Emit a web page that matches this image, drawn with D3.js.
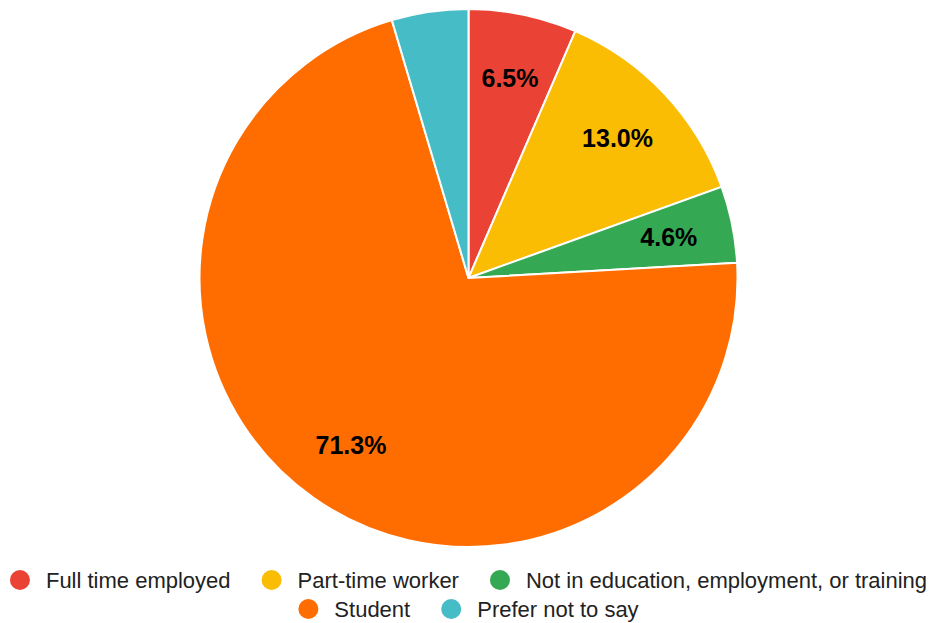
<!DOCTYPE html>
<html>
<head>
    <meta charset="utf-8">
    <title>Employment status pie</title>
    <script src="https://cdn.jsdelivr.net/npm/d3@7"></script>
    <style>
        body { margin: 0; background: #fff; }
        text { font-family: "Liberation Sans", Arial, sans-serif; }
    </style>
</head>
<body>
<script>
    // data
    var categories = ["Full time employed", "Part-time worker",
        "Not in education, employment, or training", "Student", "Prefer not to say"];
    var values = [6.5, 13.0, 4.6, 71.3, 4.6];
    var colors = ["#ea4335", "#fbbc04", "#34a853", "#ff6d01", "#46bdc6"];
    var hiddenLabels = ["Prefer not to say"];

    var width = 933, height = 623,
        cx = 468.5, cy = 278, radius = 269;

    var svg = d3.select("body").append("svg")
        .attr("width", width)
        .attr("height", height);

    var pie = d3.pie().sort(null).value(function (d) { return d.value; });
    var arc = d3.arc().innerRadius(0).outerRadius(radius);
    var labelArc = d3.arc().innerRadius(radius * 0.76).outerRadius(radius * 0.76);

    var data = categories.map(function (c, i) {
        return { name: c, value: values[i], color: colors[i] };
    });
    var total = d3.sum(values);

    var g = svg.append("g").attr("transform", "translate(" + cx + "," + cy + ")");

    g.selectAll("path.slice")
        .data(pie(data))
        .enter().append("path")
        .attr("class", "slice")
        .attr("d", arc)
        .attr("fill", function (d) { return d.data.color; })
        .attr("stroke", "#fff")
        .attr("stroke-width", 2);

    g.selectAll("text.label")
        .data(pie(data).filter(function (d) { return hiddenLabels.indexOf(d.data.name) < 0; }))
        .enter().append("text")
        .attr("class", "label")
        .attr("transform", function (d) { return "translate(" + labelArc.centroid(d) + ")"; })
        .attr("text-anchor", "middle")
        .attr("dy", "0.36em")
        .style("font-size", "25px")
        .style("font-weight", "bold")
        .style("fill", "#000")
        .text(function (d) { return (d.data.value / total * 100).toFixed(1) + "%"; });

    // legend: centred rows, wrapped to the width
    var legend = svg.append("g").attr("class", "legend");
    var r = 10, textX = 36, gapItem = 31, rowY = [580, 609], maxW = 925;

    var items = data.map(function (d) {
        var it = legend.append("g");
        it.append("circle").attr("r", r).attr("cx", r).attr("fill", d.color);
        var t = it.append("text")
            .attr("x", textX)
            .attr("dy", "0.36em")
            .style("font-size", "22px")
            .style("fill", "#222")
            .text(d.name);
        return { g: it, w: textX + t.node().getComputedTextLength() };
    });

    var rows = [[]], rowW = [0];
    items.forEach(function (it) {
        var k = rows.length - 1;
        var add = (rows[k].length ? gapItem : 0) + it.w;
        if (rowW[k] + add > maxW && rows[k].length) {
            rows.push([it]); rowW.push(it.w);
        } else {
            rows[k].push(it); rowW[k] += add;
        }
    });

    rows.forEach(function (row, k) {
        var x = width / 2 - rowW[k] / 2 + 2;
        row.forEach(function (it) {
            it.g.attr("transform", "translate(" + x + "," + rowY[k] + ")");
            x += it.w + gapItem;
        });
    });
</script>
</body>
</html>
